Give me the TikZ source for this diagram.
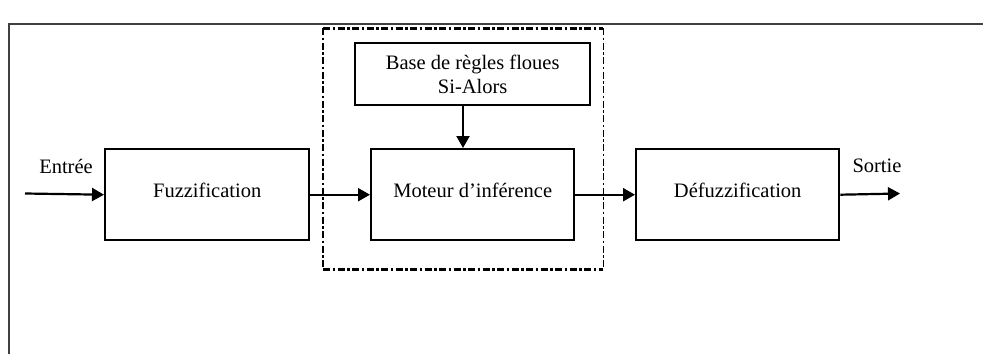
\documentclass[tikz,border=0pt]{standalone}
\usepackage{fontspec}
\setmainfont{Liberation Serif}
\usetikzlibrary{arrows.meta}
\begin{document}
\begin{tikzpicture}[x=1pt,y=-1pt,
  every node/.style={font=\fontsize{20.5}{24}\selectfont},
  blk/.style={draw,line width=2.4pt,inner sep=0pt,anchor=north west},
  conn/.style={line width=2.2pt,-{Triangle[length=12pt,width=13pt]}},
  grp/.style={dash pattern=on 7pt off 2.5pt on 2.5pt off 2.5pt}]
\useasboundingbox (0,0) rectangle (983,354);
\fill[white] (0,0) rectangle (983,354);
% outer frame (only top and left visible)
\draw[line width=2.4pt,black!75] (9,354) -- (9,24) -- (983,24);
% dashed group
\node[anchor=north west,minimum width=280pt,minimum height=241pt,inner sep=0pt] (grp) at (323,28) {};
\draw[grp,line width=3pt] (grp.north west) -- (grp.north east);
\draw[grp,line width=3pt] (grp.south west) -- (grp.south east);
\draw[grp,line width=1.6pt] (grp.north west) -- (grp.south west);
\draw[grp,line width=1.6pt] (grp.north east) -- (grp.south east);
% boxes
\node[blk,minimum width=204pt,minimum height=91pt,text depth=8pt] (fuz) at (104,148) {Fuzzification};
\node[blk,minimum width=203pt,minimum height=91pt,text depth=8pt] (mot) at (370,148) {Moteur d’inférence};
\node[blk,minimum width=203pt,minimum height=91pt,text depth=8pt] (def) at (635,148) {Défuzzification};
\node[blk,minimum width=235pt,minimum height=62pt,align=center] (base) at (354,42) {Base de règles floues\\Si-Alors};
% inputs / outputs
\coordinate (in) at (25,193.5);
\coordinate (out) at (900,193.5);
\node (lin) at (66,166) {Entrée};
\node (lout) at (877,166) {Sortie};
% connectors
\draw[conn] (in) -- (fuz.west);
\draw[conn] (fuz.east) -- (mot.west);
\draw[conn] (mot.east) -- (def.west);
\draw[conn] (def.east) -- (out);
\draw[conn] (base.south -| 463,0) -- (mot.north -| 463,0);
\end{tikzpicture}
\end{document}
